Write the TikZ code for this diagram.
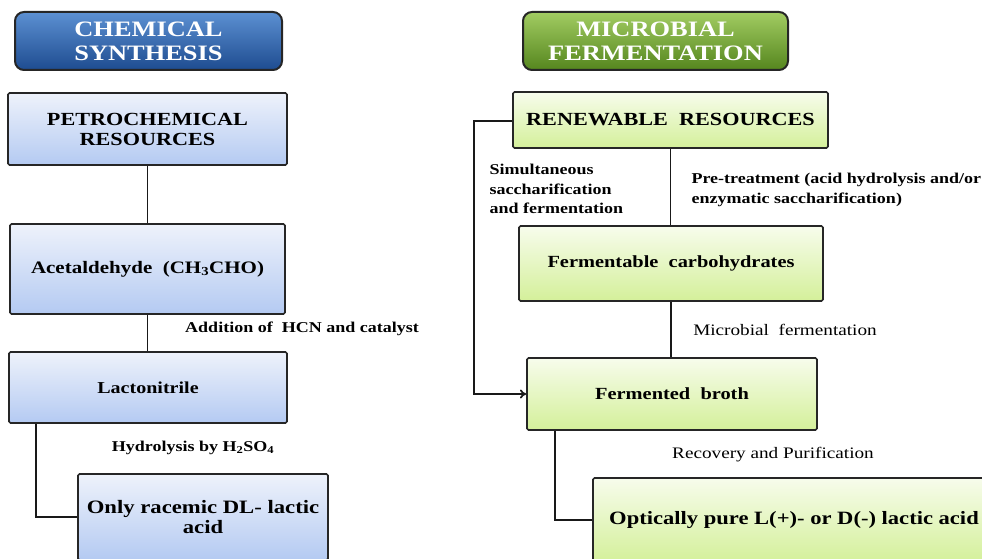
\documentclass[tikz,border=0pt]{standalone}
\usepackage{fontspec}
\setmainfont{Liberation Serif}[FakeStretch=1.2]
\usepackage{xcolor}
\usepackage{tikz}
\usetikzlibrary{arrows.meta, positioning}

\definecolor{chemtop}{HTML}{EEF2FB}
\definecolor{chembot}{HTML}{B4CAF2}
\definecolor{biotop}{HTML}{F7FCEC}
\definecolor{biobot}{HTML}{D4F09A}
\definecolor{headbluetop}{HTML}{5C90D2}
\definecolor{headbluebot}{HTML}{1E4C90}
\definecolor{headgreentop}{HTML}{A2CC62}
\definecolor{headgreenbot}{HTML}{55861E}

\begin{document}
\begin{tikzpicture}[
    x=1pt, y=-1pt,
    block/.style={rectangle, draw=black!85, line width=1.6pt, rounded corners=1.5pt, align=center, inner sep=2pt},
    chem_block/.style={block, top color=chemtop, bottom color=chembot},
    bio_block/.style={block, top color=biotop, bottom color=biobot},
    head_block/.style={rectangle, draw=black!85, line width=2pt, rounded corners=9pt, align=center, text=white,
        font=\fontsize{22}{24}\selectfont\bfseries},
    link/.style={line width=1.8pt, black!90},
    arrow/.style={link, -{To[length=2.2mm, width=3.2mm]}},
    label_style/.style={font=\fontsize{15}{19.5}\selectfont\bfseries, align=left},
    plain_label/.style={font=\fontsize{16}{19}\selectfont, align=left}
]
\useasboundingbox (0,0) rectangle (982,559);
\clip (0,0) rectangle (982,559);

% chemical route
\node[head_block, top color=headbluetop, bottom color=headbluebot, minimum width=267pt, minimum height=58pt] (chemhead) at (148.5,41) {CHEMICAL\\SYNTHESIS};
\node[chem_block, minimum width=279pt, minimum height=72pt, font=\fontsize{18.5}{20}\selectfont\bfseries] (petro) at (147.5,129) {PETROCHEMICAL\\RESOURCES};
\node[chem_block, minimum width=275pt, minimum height=90pt, font=\fontsize{17.5}{20}\selectfont\bfseries] (acet) at (147.5,269) {Acetaldehyde \ (CH\textsubscript{3}CHO)};
\node[chem_block, minimum width=278pt, minimum height=71pt, font=\fontsize{16.7}{20}\selectfont\bfseries] (lacto) at (148,387.5) {Lactonitrile};
\node[chem_block, minimum width=250pt, minimum height=86pt, font=\fontsize{18.9}{20}\selectfont\bfseries] (racemic) at (203,517) {Only racemic DL- lactic\\acid};

% microbial route
\node[head_block, top color=headgreentop, bottom color=headgreenbot, minimum width=265pt, minimum height=58pt] (biohead) at (655.5,41) {MICROBIAL\\FERMENTATION};
\node[bio_block, minimum width=315pt, minimum height=56pt, font=\fontsize{18.5}{20}\selectfont\bfseries] (renew) at (670.5,120) {RENEWABLE \ RESOURCES};
\node[bio_block, minimum width=304pt, minimum height=75pt, font=\fontsize{17}{20}\selectfont\bfseries] (fermcarb) at (671,263.5) {Fermentable \ carbohydrates};
\node[bio_block, minimum width=290pt, minimum height=72pt, font=\fontsize{17}{20}\selectfont\bfseries] (broth) at (672,394) {Fermented \ broth};
\node[bio_block, minimum width=402pt, minimum height=84pt, font=\fontsize{18.8}{20}\selectfont\bfseries] (optic) at (794,520) {Optically pure L(+)- or D(-) lactic acid};

% step labels
\node[label_style] (addlbl) at (302,329) {Addition of \ HCN and catalyst};
\node[label_style] (hydrolbl) at (193,448) {Hydrolysis by H\textsubscript{2}SO\textsubscript{4}};
\node[label_style, anchor=west] (ssflbl) at (486,189) {Simultaneous\\saccharification\\and fermentation};
\node[label_style, anchor=west] (pretrlbl) at (688,190) {Pre-treatment (acid hydrolysis and/or\\enzymatic saccharification)};
\node[plain_label] (microlbl) at (785,330) {Microbial \ fermentation};
\node[plain_label] (recovlbl) at (773,455) {Recovery and Purification};

\coordinate (ssf) at (474,121);

\draw[link] (petro.south) -- (petro.south |- acet.north);
\draw[link] (acet.south) -- (acet.south |- lacto.north);
\draw[link] ([xshift=28pt]lacto.south west) |- (racemic.west);
\draw[arrow] (renew.west |- ssf) -- (ssf) |- (broth.west);
\draw[link] (renew.south) -- (renew.south |- fermcarb.north);
\draw[link] (fermcarb.south) -- (fermcarb.south |- broth.north);
\draw[link] ([xshift=29pt]broth.south west) |- (optic.west);
\end{tikzpicture}
\end{document}
